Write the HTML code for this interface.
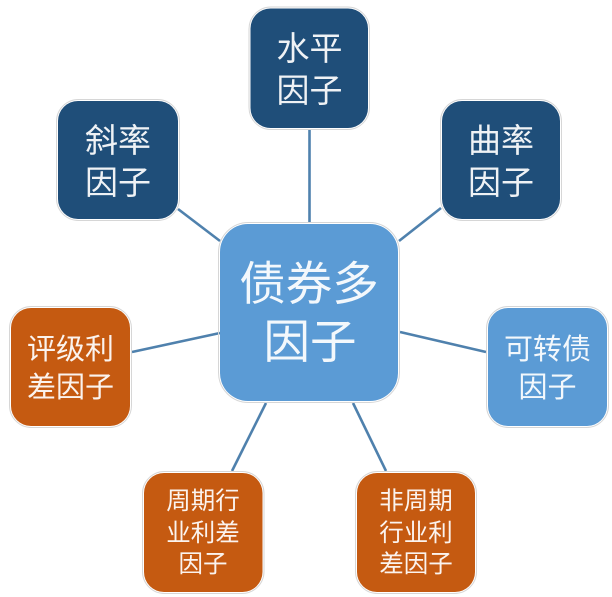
<!DOCTYPE html>
<html lang="zh">
<head>
<meta charset="utf-8">
<style>
html,body{margin:0;padding:0;background:#fff}
svg{display:block}
text{font-family:"Liberation Sans","Noto Sans CJK SC",sans-serif;fill:#fff;fill-opacity:.93;text-anchor:middle}
.o{fill:none;stroke:#d6d6d6;stroke-width:1}
.l{stroke:#4f81ad;stroke-width:2.6;fill:none}
</style>
</head>
<body>
<svg width="612" height="597" viewBox="0 0 612 597" xmlns="http://www.w3.org/2000/svg">
<g class="l">
<line x1="309.5" y1="129" x2="309.5" y2="223"/>
<line x1="178" y1="209" x2="220" y2="241"/>
<line x1="441" y1="208" x2="399" y2="241"/>
<line x1="132" y1="352" x2="220" y2="333"/>
<line x1="232" y1="471" x2="266" y2="403"/>
<line x1="386" y1="471" x2="353" y2="403"/>
<line x1="400" y1="332" x2="486" y2="352"/>
</g>

<rect class="o" x="249" y="7" width="120.500" height="122.500" rx="22"/>
<rect class="o" x="56.500" y="99.500" width="123" height="121" rx="22"/>
<rect class="o" x="440.500" y="99.500" width="121" height="121" rx="22"/>
<rect class="o" x="9.500" y="306.500" width="122" height="121" rx="22"/>
<rect class="o" x="142.500" y="471.500" width="121.500" height="122" rx="22"/>
<rect class="o" x="355.500" y="471.500" width="121" height="122" rx="22"/>
<rect class="o" x="486.500" y="306.500" width="122" height="121" rx="22"/>
<rect class="o" x="218.500" y="222.500" width="181" height="180" rx="30"/>

<rect x="250.500" y="8.500" width="117.500" height="119.500" rx="20" fill="#1f4e79"/>
<rect x="58" y="101" width="120" height="118" rx="20" fill="#1f4e79"/>
<rect x="442" y="101" width="118" height="118" rx="20" fill="#1f4e79"/>
<rect x="11" y="308" width="119" height="118" rx="20" fill="#c55a11"/>
<rect x="144" y="473" width="118.500" height="119" rx="20" fill="#c55a11"/>
<rect x="357" y="473" width="118" height="119" rx="20" fill="#c55a11"/>
<rect x="488" y="308" width="119" height="118" rx="20" fill="#5b9bd5"/>
<rect x="220" y="224" width="178" height="177" rx="28" fill="#5b9bd5"/>

<text x="309.500" y="60" font-size="33">水平</text>
<text x="309.500" y="102" font-size="33">因子</text>
<text x="118" y="152" font-size="33">斜率</text>
<text x="118" y="194" font-size="33">因子</text>
<text x="501" y="152" font-size="33">曲率</text>
<text x="501" y="194" font-size="33">因子</text>
<text x="70.500" y="359" font-size="29">评级利</text>
<text x="70.500" y="397" font-size="29">差因子</text>
<text x="547.500" y="359" font-size="29">可转债</text>
<text x="547.500" y="397" font-size="29">因子</text>
<text x="203" y="509" font-size="24.500">周期行</text>
<text x="203" y="541" font-size="24.500">业利差</text>
<text x="203" y="572" font-size="24.500">因子</text>
<text x="416" y="509" font-size="24.500">非周期</text>
<text x="416" y="541" font-size="24.500">行业利</text>
<text x="416" y="572" font-size="24.500">差因子</text>
<text x="309" y="300" font-size="46.500">债券多</text>
<text x="310" y="358" font-size="46.500">因子</text>
</svg>
</body>
</html>
